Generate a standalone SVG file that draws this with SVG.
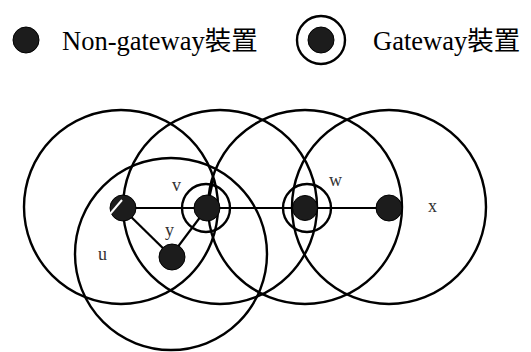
<svg xmlns="http://www.w3.org/2000/svg" width="531" height="352" viewBox="0 0 531 352">
  <style>
    .range { fill: none; stroke: #000; stroke-width: 2.4; }
    .ring { fill: none; stroke: #000; stroke-width: 2.4; }
    .dot { fill: #1c1c1c; stroke: #000; stroke-width: 1; }
    .link { stroke: #000; stroke-width: 2.2; fill: none; }
    .legend { font-family: "Liberation Serif", "Noto Sans CJK TC", serif; font-size: 26.5px; fill: #000; }
    .label { font-family: "Liberation Serif", serif; font-size: 18px; fill: #333; }
  </style>
  <rect width="531" height="352" fill="#fff"/>

  <!-- legend -->
  <g id="legend-non-gateway">
    <circle class="dot" cx="26" cy="40" r="13"/>
    <text class="legend" x="62" y="50">Non-gateway裝置</text>
  </g>
  <g id="legend-gateway">
    <circle class="ring" cx="321" cy="40" r="24"/>
    <circle class="dot" cx="321" cy="40" r="13"/>
    <text class="legend" x="373" y="50">Gateway裝置</text>
  </g>

  <!-- transmission ranges -->
  <g id="ranges">
    <circle class="range" cx="121" cy="207" r="97"/>
    <circle class="range" cx="220" cy="207" r="97"/>
    <circle class="range" cx="305" cy="207" r="97"/>
    <circle class="range" cx="389" cy="207" r="97"/>
    <circle class="range" cx="171" cy="254" r="96"/>
  </g>

  <!-- links -->
  <g id="connectors">
    <line class="link" x1="122" y1="208" x2="389" y2="208"/>
    <line class="link" x1="122" y1="208" x2="171" y2="256"/>
    <line class="link" x1="171" y1="256" x2="207" y2="208"/>
    <line class="link" x1="213" y1="181" x2="209" y2="199"/>
  </g>

  <!-- devices -->
  <g id="node-u">
    <circle class="dot" cx="123" cy="208" r="13"/>
    <line x1="110" y1="214" x2="122" y2="200" stroke="#fff" stroke-width="2"/>
    <text class="label" x="98" y="260">u</text>
  </g>
  <g id="node-v">
    <circle class="ring" cx="206" cy="208" r="24"/>
    <circle class="dot" cx="207" cy="208" r="13"/>
    <text class="label" x="172" y="191">v</text>
  </g>
  <g id="node-w">
    <circle class="ring" cx="307" cy="208" r="24"/>
    <circle class="dot" cx="305" cy="208" r="12.5"/>
    <text class="label" x="329" y="186">w</text>
  </g>
  <g id="node-x">
    <circle class="dot" cx="389" cy="208" r="13"/>
    <text class="label" x="428" y="212">x</text>
  </g>
  <g id="node-y">
    <circle class="dot" cx="172" cy="257" r="13"/>
    <text class="label" x="165" y="236">y</text>
  </g>
</svg>
